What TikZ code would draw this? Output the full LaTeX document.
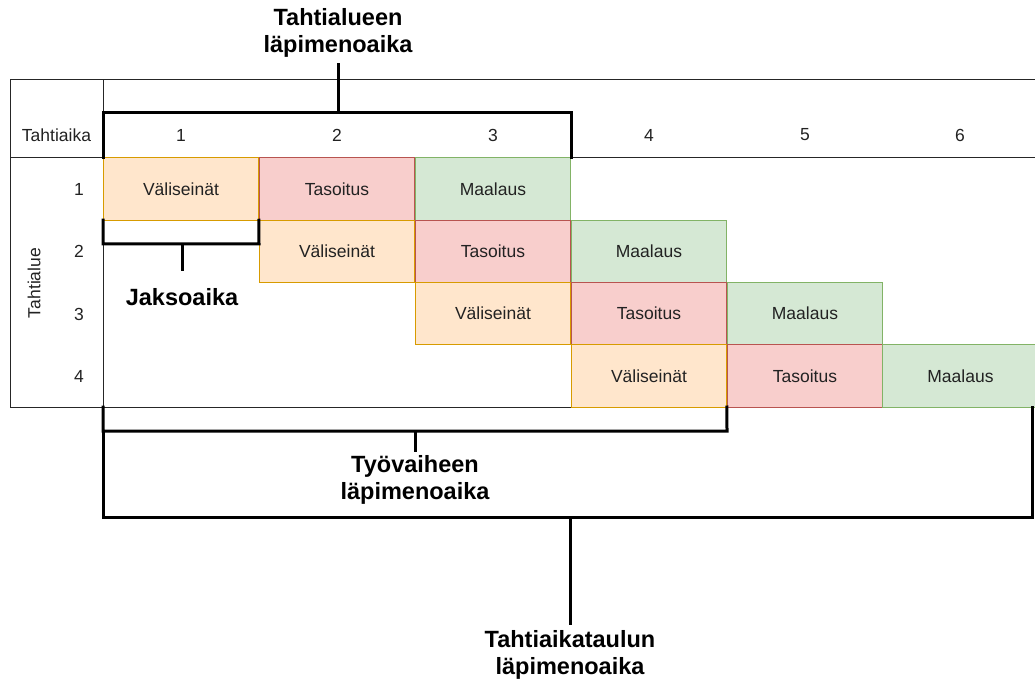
\documentclass[tikz,border=0pt]{standalone}
\usepackage{fontspec}
\setmainfont{Liberation Sans}
\definecolor{ofill}{HTML}{FFE6CC}
\definecolor{odraw}{HTML}{D79B00}
\definecolor{rfill}{HTML}{F8CECC}
\definecolor{rdraw}{HTML}{B85450}
\definecolor{gfill}{HTML}{D5E8D4}
\definecolor{gdraw}{HTML}{82B366}
\definecolor{txt}{HTML}{222222}
\begin{document}
\begin{tikzpicture}[x=1pt,y=-1pt,
  cell/.style={minimum width=155.9pt, minimum height=62.25pt, inner sep=0pt, outer sep=0pt, anchor=north west, font=\fontsize{17.5}{20}\selectfont, text=txt, line width=1pt},
  vali/.style={cell, fill=ofill, draw=odraw},
  taso/.style={cell, fill=rfill, draw=rdraw},
  maal/.style={cell, fill=gfill, draw=gdraw},
  lbl/.style={font=\fontsize{17.5}{20}\selectfont, text=txt, inner sep=0pt},
  big/.style={font=\fontsize{23.5}{27}\selectfont\bfseries, align=center, inner sep=0pt},
  grid/.style={draw=black!85, line width=1pt},
  brk/.style={draw=black, line width=3pt, line cap=rect, line join=miter}
]
\useasboundingbox (0,0) rectangle (1035,684);
% table frame
\path[grid] (10,80) -- (1035,80);
\path[grid] (10,158) -- (1035,158);
\path[grid] (10,80) -- (10,407) -- (1035,407);
\path[grid] (103,80) -- (103,407);
% header texts
\node[lbl] (th) at (56.5,135) {Tahtiaika};
\foreach \i/\x in {1/181,2/337,3/493,4/649,5/805,6/960}{
  \node[lbl] (c\i) at (\x,135) {\i};
}
\foreach \i/\y in {1/189,2/251.5,3/314,4/376}{
  \node[lbl] (r\i) at (79,\y) {\i};
}
\node[lbl, rotate=90] (ta) at (34,283) {Tahtialue};
% cells
\node[vali] (v1) at (103,158) {Väliseinät};
\node[taso] (t1) at (259,158) {Tasoitus};
\node[maal] (m1) at (415,158) {Maalaus};
\node[vali] (v2) at (259,220.25) {Väliseinät};
\node[taso] (t2) at (415,220.25) {Tasoitus};
\node[maal] (m2) at (571,220.25) {Maalaus};
\node[vali] (v3) at (415,282.5) {Väliseinät};
\node[taso] (t3) at (571,282.5) {Tasoitus};
\node[maal] (m3) at (727,282.5) {Maalaus};
\node[vali] (v4) at (571,344.75) {Väliseinät};
\node[taso] (t4) at (727,344.75) {Tasoitus};
\node[maal] (m4) at (882.5,344.75) {Maalaus};
% bracket: Tahtialueen läpimenoaika
\node[big] (lA) at (338,33) {Tahtialueen\\läpimenoaika};
\coordinate (a1) at (103,158);
\coordinate (a2) at (571,158);
\coordinate (am) at (338,113);
\path[brk] (a1) -- (103,113) -- (571,113) -- (a2);
\path[brk, line cap=butt] (am) -- (338,63);
% bracket: Jaksoaika
\node[big, anchor=center] (lJ) at (182,297) {Jaksoaika};
\path[brk] (v1.south west) -- (103,244) -- (259,244) -- (v1.south east);
\path[brk, line cap=butt] (182,244) -- (182,271);
% bracket: Työvaiheen läpimenoaika
\node[big] (lT) at (415,480) {Työvaiheen\\läpimenoaika};
\path[brk] (103,407) -- (103,431) -- (727,431) -- (v4.south east);
\path[brk, line cap=butt] (415,431) -- (415,452);
% bracket: Tahtiaikataulun läpimenoaika
\node[big] (lS) at (570,655) {Tahtiaikataulun\\läpimenoaika};
\path[brk] (103,431) -- (103,517) -- (1032.5,517) -- (1032.5,407);
\path[brk, line cap=butt] (570,517) -- (570,625);
\end{tikzpicture}
\end{document}
